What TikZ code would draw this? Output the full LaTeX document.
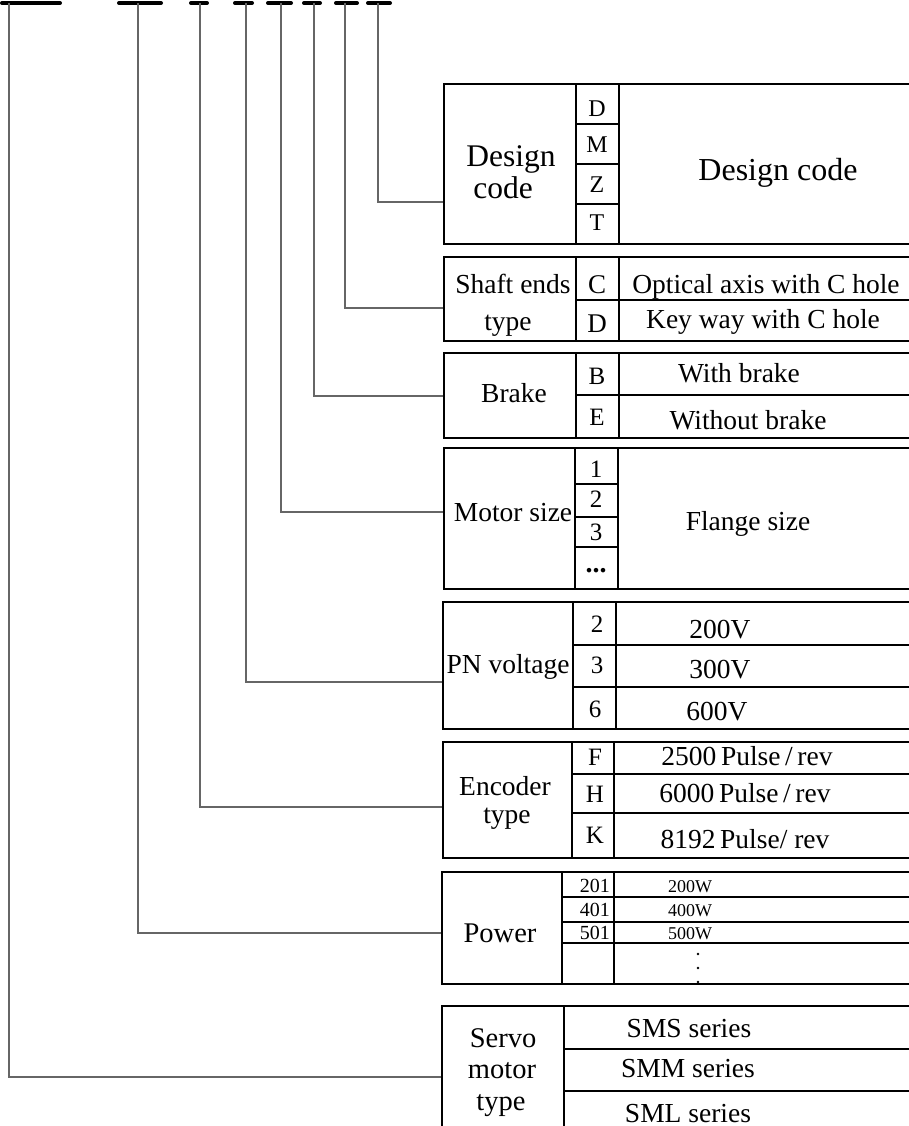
\documentclass[tikz,border=0pt]{standalone}
\usepackage{fontspec}
\setmainfont{Liberation Serif}
\newcommand{\fsz}[1]{\fontsize{#1}{#1}\selectfont}

\begin{document}
\begin{tikzpicture}[x=1pt, y=-1pt,
    txt/.style={anchor=base, inner sep=0pt, font=\fsz{27.5}},
    code/.style={anchor=base, inner sep=0pt, font=\fsz{25}},
    grid/.style={line width=1.4pt, black},
    link/.style={line width=1.1pt, black!60},
    bar/.style={line width=4pt, line cap=round}]

\useasboundingbox (0,0) rectangle (909,1126);
\clip (0,0) rectangle (909,1126);

% ================================================================
%  Model number bars across the top, one per field
% ================================================================
\foreach \xa/\xb/\xv/\n in {2/60/9/1, 119/161/138/2, 191/207/200/3, 235/252/246/4,
                            268/291/281/5, 304/320/314/6, 336/357/345/7, 368/390/378/8}{
    \draw[bar] (\xa, 3) -- (\xb, 3);
    \coordinate (top\n) at (\xv, 3);
}

% Entry points on the left edge of each table
\coordinate (in8) at (444, 202);
\coordinate (in7) at (444, 308);
\coordinate (in6) at (444, 396);
\coordinate (in5) at (444, 512);
\coordinate (in4) at (443, 682);
\coordinate (in3) at (442, 807);
\coordinate (in2) at (442, 933);
\coordinate (in1) at (442, 1077);

\foreach \n in {1,...,8}{
    \draw[link] (top\n) |- (in\n);
}

% ================================================================
%  Design code
% ================================================================
\draw[grid] (444, 84) rectangle (915, 244);
\draw[grid] (576, 84) -- (576, 244) (619, 84) -- (619, 244);
\foreach \yy in {124, 164, 204}{
    \draw[grid] (576, \yy) -- (619, \yy);
}
\node[txt, font=\fsz{31.5}] (dsgA) at (511, 167) {Design};
\node[txt, font=\fsz{31.5}] (dsgB) at (503, 198) {code};
\foreach \c/\yy in {D/117, M/153, Z/193, T/230}{
    \node[code, font=\fsz{24}] (dsg\c) at (597, \yy) {\c};
}
\node[txt, font=\fsz{32}] (dsgtxt) at (778, 180) {Design code};

% ================================================================
%  Shaft ends type
% ================================================================
\draw[grid] (444, 257) rectangle (915, 341);
\draw[grid] (576, 257) -- (576, 341) (619, 257) -- (619, 341) (576, 300) -- (915, 300);
\node[txt] (shaftA) at (513, 293) {Shaft ends};
\node[txt] (shaftB) at (508, 330) {type};
\node[code, font=\fsz{27}] (shaftC) at (597, 293) {C};
\node[code, font=\fsz{27}] (shaftD) at (597, 332) {D};
\node[txt] (shaftCtxt) at (766, 293) {Optical axis with C hole};
\node[txt] (shaftDtxt) at (763, 328) {Key way with C hole};

% ================================================================
%  Brake
% ================================================================
\draw[grid] (444, 353) rectangle (915, 438);
\draw[grid] (576, 353) -- (576, 438) (619, 353) -- (619, 438) (576, 395) -- (915, 395);
\node[txt] (brk) at (514, 402) {Brake};
\node[code] (brkB) at (597, 384) {B};
\node[code] (brkE) at (597, 425) {E};
\node[txt] (brkBtxt) at (739, 382) {With brake};
\node[txt] (brkEtxt) at (748, 429) {Without brake};

% ================================================================
%  Motor size
% ================================================================
\draw[grid] (444, 448) rectangle (915, 589);
\draw[grid] (575, 448) -- (575, 589) (618, 448) -- (618, 589);
\foreach \yy in {484, 517, 547}{
    \draw[grid] (575, \yy) -- (618, \yy);
}
\node[txt] (mot) at (513, 521) {Motor size};
\foreach \c/\yy in {1/477, 2/507, 3/540}{
    \node[code] (mot\c) at (596, \yy) {\c};
}
\node[code, font=\fsz{28}] (motdots) at (596, 572) {\textbf{...}};
\node[txt] (mottxt) at (748, 530) {Flange size};

% ================================================================
%  PN voltage
% ================================================================
\draw[grid] (443, 602) rectangle (915, 729);
\draw[grid] (573, 602) -- (573, 729) (616, 602) -- (616, 729)
            (573, 645) -- (915, 645) (573, 687) -- (915, 687);
\node[txt] (pn) at (508, 673) {PN voltage};
\node[code] (pn2) at (597, 632) {2};
\node[code] (pn3) at (597, 673) {3};
\node[code] (pn6) at (595, 717) {6};
\node[txt] (pn2txt) at (720, 638) {200V};
\node[txt] (pn3txt) at (720, 678) {300V};
\node[txt] (pn6txt) at (717, 720) {600V};

% ================================================================
%  Encoder type
% ================================================================
\draw[grid] (443, 742) rectangle (915, 858);
\draw[grid] (572, 742) -- (572, 858) (614, 742) -- (614, 858)
            (572, 774) -- (915, 774) (572, 813) -- (915, 813);
\node[txt] (encA) at (505, 795) {Encoder};
\node[txt] (encB) at (507, 823) {type};
\node[code] (encF) at (595, 765) {F};
\node[code] (encH) at (595, 802) {H};
\node[code] (encK) at (595, 843) {K};
\node[txt] (encFtxt) at (747, 765) {2500\,Pulse\,/\,rev};
\node[txt] (encHtxt) at (745, 802) {6000\,Pulse\,/\,rev};
\node[txt] (encKtxt) at (745, 848) {8192\,Pulse/ rev};

% ================================================================
%  Power
% ================================================================
\draw[grid] (442, 872) rectangle (915, 984);
\draw[grid] (562, 872) -- (562, 984) (614, 872) -- (614, 984);
\foreach \yy in {897, 922, 943}{
    \draw[grid] (562, \yy) -- (915, \yy);
}
\node[txt, font=\fsz{28.5}] (pwr) at (500, 942) {Power};
\foreach \c/\w/\yy in {201/200/892, 401/400/916, 501/500/939}{
    \node[code, anchor=base east, font=\fsz{20}] (pwr\c) at (610, \yy) {\c};
    \node[txt, font=\fsz{18}] (pwr\c txt) at (690, \yy) {\w W};
}
\foreach \yy in {954, 968, 982}{
    \fill (698, \yy) circle (1.4);
}

% ================================================================
%  Servo motor type (cut off at the lower edge)
% ================================================================
\draw[grid] (442, 1130) -- (442, 1006) -- (915, 1006);
\draw[grid] (564, 1006) -- (564, 1130) (564, 1049) -- (915, 1049) (564, 1091) -- (915, 1091);
\node[txt, font=\fsz{28.5}] (srvA) at (503, 1047) {Servo};
\node[txt, font=\fsz{28.5}] (srvB) at (502, 1078) {motor};
\node[txt, font=\fsz{28.5}] (srvC) at (501, 1110) {type};
\node[txt] (srvS) at (689, 1037) {SMS series};
\node[txt] (srvM) at (688, 1077) {SMM series};
\node[txt] (srvL) at (688, 1122) {SML series};

\end{tikzpicture}
\end{document}
